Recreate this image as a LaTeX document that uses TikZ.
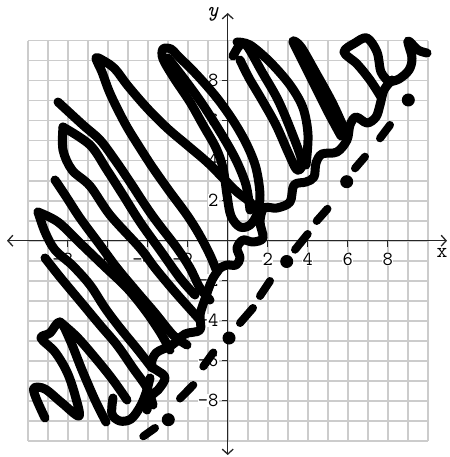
\documentclass[tikz,border=0pt]{standalone}
\usepackage{fontspec}
\usetikzlibrary{arrows.meta}
\begin{document}
\begin{tikzpicture}[x=1pt,y=-1pt,
  gridline/.style={draw=black!20, line width=1.6pt},
  axisline/.style={draw=black!85, line width=1.3pt},
  bothtips/.style={{Straight Barb[length=5pt,width=11pt]}-{Straight Barb[length=5pt,width=11pt]}},
  scr/.style={line width=9pt, line cap=round, line join=round},
  dashseg/.style={line width=8pt, line cap=round},
  dotmark/.style={circle, fill=black, inner sep=0pt, minimum size=13pt},
  lab/.style={font=\ttfamily\fontsize{20}{20}\selectfont, inner sep=0.3pt, fill=white},
]
\useasboundingbox (0,0) rectangle (449,457);
% grid
\foreach \k in {0,...,20} {
  \draw[gridline] (27.7+20*\k,40.7) -- (27.7+20*\k,440.7);
  \draw[gridline] (27.7,40.7+20*\k) -- (427.7,40.7+20*\k);
}
% axes
\coordinate (xl) at (7,240.7);
\coordinate (xr) at (447,240.7);
\coordinate (yt) at (227.7,13);
\coordinate (yb) at (227.7,455);
\draw[axisline, bothtips] (xl) -- (xr);
\draw[axisline, bothtips] (yb) -- (yt);
\foreach \v in {-8,-6,-4,-2,2,4,6,8} {
  \draw[axisline] (227.7+20*\v,240.7) -- ++(0,6);
  \draw[axisline] (227.7,240.7-20*\v) -- ++(-6,0);
}
% labels
\foreach \v in {2,4,6,8} {
  \node[lab] (xp\v) at (227.7+20*\v,259) {\v};
  \node[lab] (xn\v) at (227.7-20*\v,259) {\llap{-}\v};
  \node[lab, anchor=east] (yp\v) at (219,240.7-20*\v) {\v};
  \node[lab, anchor=east] (yn\v) at (219,240.7+20*\v) {-\v};
}
\node[font=\ttfamily\itshape\fontsize{21}{21}\selectfont, inner sep=0pt] (ylab) at (213,14) {y};
\node[font=\ttfamily\fontsize{21}{21}\selectfont, inner sep=0pt] (xlab) at (442,253) {x};
% dashed boundary line
\node[dotmark] (d1) at (168.3,419.7) {};
\node[dotmark] (d2) at (229,338) {};
\node[dotmark] (d3) at (286.7,261.5) {};
\node[dotmark] (d4) at (346.7,181.7) {};
\node[dotmark] (d5) at (408.3,100) {};
\draw[dashseg] (143.3,436.3) -- (155,428);
\draw[dashseg] (180,398.5) -- (193.3,385);
\draw[dashseg] (203.3,366.5) -- (213.3,352.5);
\draw[dashseg] (240,323) -- (253,308);
\draw[dashseg] (260,296) -- (270,281);
\draw[dashseg] (295,249.7) -- (307.7,234);
\draw[dashseg] (316.7,221) -- (327.5,208.8);
\draw[dashseg] (355,168.3) -- (365,156.7);
\draw[dashseg] (380,138.3) -- (390,125);
% scribble shading
% loop from tip (95,57)
\draw[scr] plot[smooth,tension=0.55] coordinates {(217,272) (210,255) (199,234) (187,215) (170,192) (153,168) (140,148) (127,127) (117,108) (109,91) (102,72) (96,58) (104,61) (115,69) (128,86) (147,108) (167,128) (187,145) (207,162) (223,178) (237,192) (250,202) (258,212)};
% narrow loop from tip (162,49)
\draw[scr] plot[smooth cycle,tension=0.55] coordinates {(240,227) (231,216) (227,195) (223,168) (216,148) (203,125) (190,102) (174,78) (163,59) (163,49) (171,49) (178,56) (197,75) (217,98) (234,122) (247,145) (256,168) (260,195) (257,214) (250,225)};
\draw[scr] plot[smooth,tension=0.55] coordinates {(168,58) (185,80) (203,105) (222,135) (236,160) (246,185) (250,210)};
% left loops
\draw[scr] plot[smooth,tension=0.55] coordinates {(58,102) (83,125) (100,140) (115,160) (130,182) (145,205) (157,222) (177,248) (190,268) (200,288) (210,300)};
\draw[scr] plot[smooth,tension=0.55] coordinates {(63,127) (90,145) (107,170) (123,195) (140,222) (160,250) (180,278) (195,295)};
\draw[scr] plot[smooth,tension=0.55] coordinates {(63,127) (63,150) (72,170) (90,186) (110,215) (140,248) (155,268) (175,292) (200,320)};
\draw[scr] plot[smooth,tension=0.55] coordinates {(55,180) (67,198) (80,218) (100,245) (117,268) (137,292) (155,313) (173,335) (187,345)};
\draw[scr] plot[smooth,tension=0.55] coordinates {(38,212) (45,232) (55,250) (72,265) (90,285) (105,308) (120,328) (138,350) (152,368)};
\draw[scr] plot[smooth,tension=0.55] coordinates {(38,212) (58,222) (80,243) (105,267) (127,288) (145,310) (160,332) (170,350)};
\draw[scr] plot[smooth,tension=0.55] coordinates {(45,258) (60,277) (80,301) (100,325) (117,345) (133,368) (147,388) (153,405)};
% bottom-left zigzag
\draw[scr] plot[smooth,tension=0.55] coordinates {(45,418) (36,398) (34,388) (45,389) (62,403) (79,416) (75,395) (67,372) (55,352) (41,338) (50,333) (60,322) (70,340) (82,370) (95,400) (106,422)};
\draw[scr] plot[smooth,tension=0.55] coordinates {(60,322) (77,337) (97,360) (113,380) (127,400)};
\draw[scr] plot[smooth,tension=0.55] coordinates {(113,398) (112,414) (120,421) (131,419) (140,407) (146,393) (150,378)};
\draw[scr] plot[smooth,tension=0.55] coordinates {(220,268) (212,280) (205,299) (200,315) (200,330) (185,334) (172,345) (156,353) (152,366) (165,377) (158,390) (150,397) (147,410)};
% upper right
\draw[scr] plot[smooth,tension=0.55] coordinates {(427,53) (418,50) (408,41) (412,58) (409,70) (399,79) (389,82)};
\draw[scr] plot[smooth,tension=0.55] coordinates {(389,82) (381,72) (377,52) (367,38) (355,43) (344,52) (357,64) (370,80) (381,97)};
\draw[scr] plot[smooth,tension=0.55] coordinates {(347,135) (333,104) (316,73) (301,47) (293,41) (298,52) (313,82) (328,112) (341,136)};
\draw[scr] plot[smooth,tension=0.55] coordinates {(237,42) (250,45) (270,62) (290,85) (303,108) (308,135) (306,165)};
\draw[scr] plot[smooth,tension=0.55] coordinates {(233,56) (240,45) (247,46) (262,72) (278,100) (292,133) (302,162) (297,170) (288,152) (276,125) (262,100) (249,78) (240,60)};
% wavy lower edge
\draw[scr] plot[smooth,tension=0.55] coordinates {(392,80) (384,90) (380,105) (376,117) (367,123) (356,117) (350,125) (347,140) (337,152) (322,154) (316,163) (314,177) (306,182) (294,185) (290,202) (277,208) (264,208) (260,222) (263,238) (253,242) (243,240) (237,248) (240,258) (236,265) (227,265) (220,268)};
\end{tikzpicture}
\end{document}
